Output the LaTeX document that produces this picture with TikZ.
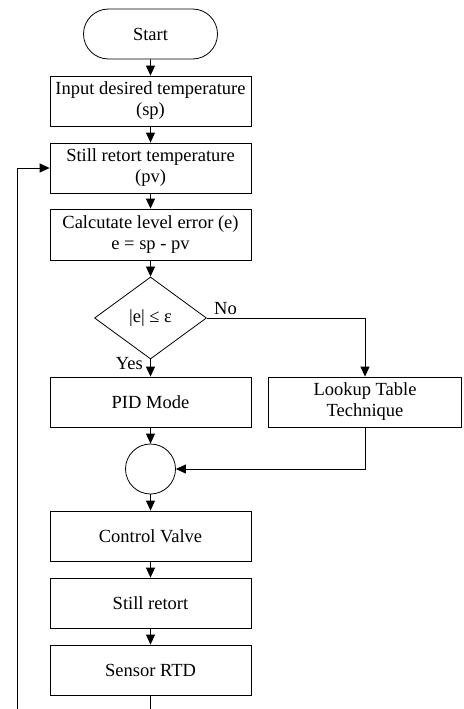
\documentclass[tikz,border=0pt]{standalone}
\usepackage{fontspec}
\setmainfont{Liberation Serif}
\usetikzlibrary{shapes.geometric,shapes.misc,arrows.meta}
\begin{document}
\begin{tikzpicture}[x=1pt,y=-1pt,
  every node/.style={font=\fontsize{18.5}{21}\selectfont},
  base/.style={draw, line width=0.8pt, align=center, inner sep=0pt},
  box/.style={base, rectangle, minimum width=201pt, minimum height=50pt},
  term/.style={base, rounded rectangle, minimum width=134pt, minimum height=50pt},
  dia/.style={base, diamond, minimum width=112pt, minimum height=82pt, aspect=1.37},
  junc/.style={base, circle, minimum size=50pt},
  arr/.style={line width=0.8pt, -{Triangle[length=10pt,width=9pt]}},
  ln/.style={line width=0.8pt},
  lab/.style={inner sep=0pt}]
\useasboundingbox (0,0) rectangle (463,709);
\node[term] (start) at (150.5,34) {Start};
\node[box] (in) at (150.5,101) {Input desired temperature\\(sp)};
\node[box] (pv) at (150.5,168) {Still retort temperature\\(pv)};
\node[box, minimum height=51pt] (err) at (150.5,234.5) {Calcutate level error (e)\\e = sp - pv};
\node[dia] (dec) at (150.5,318) {|e| ≤ ε};
\node[box] (pid) at (150.5,402) {PID Mode};
\node[box, minimum width=193pt] (lut) at (365,402) {Lookup Table\\Technique};
\node[junc] (sum) at (150.5,469) {};
\node[box] (cv) at (150.5,536) {Control Valve};
\node[box] (sr) at (150.5,603) {Still retort};
\node[box] (rtd) at (150.5,670) {Sensor RTD};
\node[lab, anchor=west] (no) at (214,309) {No};
\node[lab, anchor=east] (yes) at (143,364) {Yes};
\coordinate (b1) at (150.5,725);
\coordinate (b2) at (17,725);
\draw[arr] (start) -- (in);
\draw[arr] (in) -- (pv);
\draw[arr] (pv) -- (err);
\draw[arr] (err) -- (dec);
\draw[arr] (dec) -- (pid);
\draw[arr] (dec.east) -| (lut.north);
\draw[arr] (pid) -- (sum);
\draw[arr] (lut.south) |- (sum.east);
\draw[arr] (sum) -- (cv);
\draw[arr] (cv) -- (sr);
\draw[arr] (sr) -- (rtd);
\draw[arr] (rtd.south) -- (b1) -- (b2) |- (pv.west);
\end{tikzpicture}
\end{document}
